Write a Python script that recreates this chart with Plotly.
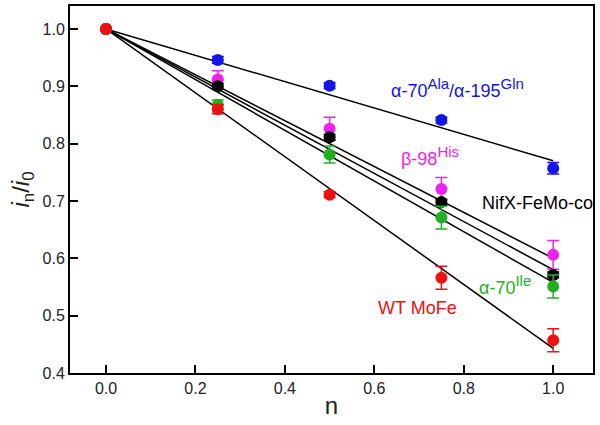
import plotly.graph_objects as go

n = [0.0, 0.25, 0.5, 0.75, 1.0]

series = ["blue", "magenta", "black", "green", "red"]
colors = {"blue": "#1414e6", "magenta": "#ee22ee", "black": "#000000",
          "green": "#22b022", "red": "#ee1111"}

values = {
    "blue":    [1.0, 0.946, 0.901, 0.841, 0.757],
    "magenta": [1.0, 0.912, 0.826, 0.721, 0.606],
    "black":   [1.0, 0.900, 0.811, 0.698, 0.571],
    "green":   [1.0, 0.868, 0.781, 0.671, 0.551],
    "red":     [1.0, 0.860, 0.711, 0.566, 0.457],
}
errors = {
    "blue":    [0, 0.006, 0.005, 0.005, 0.010],
    "magenta": [0, 0.015, 0.020, 0.020, 0.025],
    "black":   [0, 0.005, 0.005, 0.005, 0.005],
    "green":   [0, 0.008, 0.015, 0.020, 0.020],
    "red":     [0, 0.008, 0.005, 0.020, 0.020],
}
# linear fits through (0, 1): value at n = 1
fit_end = {"blue": 0.770, "magenta": 0.600, "black": 0.580,
           "green": 0.558, "red": 0.443}


def sup(t):
    return "<sup><span style='font-size:15px'>" + t + "</span></sup>"


labels = [
    ("α-70" + sup("Ala") + "/α-195" + sup("Gln"), 0.785, 0.897, "blue"),
    ("β-98" + sup("His"), 0.725, 0.778, "magenta"),
    ("NifX-FeMo-co", 0.966, 0.696, "black"),
    ("α-70" + sup("Ile"), 0.893, 0.553, "green"),
    ("WT MoFe", 0.696, 0.513, "red"),
]

fig = go.Figure()

for s in series:
    fig.add_trace(go.Scatter(
        x=[0.0, 1.0], y=[1.0, fit_end[s]], mode="lines",
        line=dict(color="black", width=1.5), showlegend=False, hoverinfo="skip"))

for s in series:
    fig.add_trace(go.Scatter(
        x=n, y=values[s], mode="markers",
        marker=dict(color=colors[s], size=12),
        error_y=dict(type="data", array=errors[s], color=colors[s],
                     thickness=1.5, width=6),
        showlegend=False))

for text, x, y, s in labels:
    fig.add_annotation(x=x, y=y, text=text, showarrow=False,
                       font=dict(color=colors[s], size=18,
                                 family="Liberation Sans, Arial"))

axis_common = dict(
    showline=True, linecolor="black", linewidth=2, mirror=True,
    ticks="inside", ticklen=8, tickwidth=2, tickcolor="black",
    showgrid=False, zeroline=False,
    tickfont=dict(size=16, color="#222222", family="Liberation Sans, Arial"),
)

fig.update_xaxes(range=[-0.0805, 1.089], tickvals=[0, 0.2, 0.4, 0.6, 0.8, 1.0],
                 ticktext=["0.0", "0.2", "0.4", "0.6", "0.8", "1.0"],
                 title=dict(text="n", font=dict(size=24, color="#222222",
                                                family="Liberation Sans, Arial"),
                            standoff=1),
                 **axis_common)
fig.update_yaxes(range=[0.4, 1.04], tickvals=[0.4, 0.5, 0.6, 0.7, 0.8, 0.9, 1.0],
                 ticktext=["0.4", "0.5", "0.6", "0.7", "0.8", "0.9", "1.0"],
                 title=dict(text="<i>i</i><sub>n</sub>/<i>i</i><sub>0</sub>",
                            font=dict(size=24, color="#222222",
                                      family="Liberation Sans, Arial"),
                            standoff=6),
                 **axis_common)

fig.update_layout(
    width=600, height=425,
    margin=dict(l=70, r=7, t=4, b=52),
    plot_bgcolor="white", paper_bgcolor="white",
)

fig.write_html("out.html", config={"displayModeBar": False},
               post_script="document.body.style.margin='0';")
